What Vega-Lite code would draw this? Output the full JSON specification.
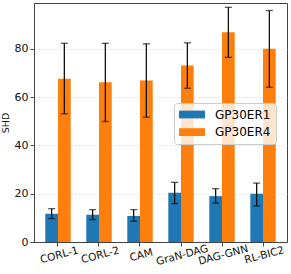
{
  "$schema": "https://vega.github.io/schema/vega-lite/v6.json",
  "autosize": "none",
  "width": 253,
  "height": 239,
  "padding": {"left": 34, "top": 3, "right": 4, "bottom": 32},
  "config": {
    "font": "DejaVu Sans",
    "view": {"stroke": "#444", "strokeWidth": 1},
    "axis": {"domainColor": "#444", "tickColor": "#444", "labelColor": "#111", "titleColor": "#111"}
  },
  "data": {"values": [
    {"method": "CORL-1", "series": "GP30ER1", "value": 11.7, "lo": 9.7, "hi": 13.8},
    {"method": "CORL-2", "series": "GP30ER1", "value": 11.3, "lo": 9.3, "hi": 13.4},
    {"method": "CAM", "series": "GP30ER1", "value": 10.8, "lo": 8.6, "hi": 13.4},
    {"method": "GraN-DAG", "series": "GP30ER1", "value": 20.4, "lo": 15.9, "hi": 24.7},
    {"method": "DAG-GNN", "series": "GP30ER1", "value": 19.0, "lo": 16.1, "hi": 22.1},
    {"method": "RL-BIC2", "series": "GP30ER1", "value": 20.0, "lo": 14.9, "hi": 24.4},
    {"method": "CORL-1", "series": "GP30ER4", "value": 67.6, "lo": 53.1, "hi": 82.3},
    {"method": "CORL-2", "series": "GP30ER4", "value": 66.2, "lo": 49.9, "hi": 82.3},
    {"method": "CAM", "series": "GP30ER4", "value": 66.9, "lo": 51.7, "hi": 82.1},
    {"method": "GraN-DAG", "series": "GP30ER4", "value": 73.1, "lo": 63.7, "hi": 82.5},
    {"method": "DAG-GNN", "series": "GP30ER4", "value": 86.9, "lo": 76.5, "hi": 97.2},
    {"method": "RL-BIC2", "series": "GP30ER4", "value": 80.0, "lo": 64.1, "hi": 95.9}
  ]},
  "encoding": {
    "x": {
      "field": "method", "type": "nominal", "sort": null,
      "scale": {"paddingInner": 0.38, "paddingOuter": 0.275},
      "axis": {"title": null, "labelAngle": -15, "labelAlign": "center", "labelBaseline": "top", "labelFontSize": 10.5, "labelDx": -6, "tickSize": 4, "labelPadding": 4, "domain": true}
    },
    "xOffset": {"field": "series", "type": "nominal", "scale": {"paddingInner": 0, "paddingOuter": 0}}
  },
  "layer": [
    {
      "mark": {"type": "bar"},
      "encoding": {
        "y": {
          "field": "value", "type": "quantitative",
          "scale": {"domain": [0, 99], "nice": false, "zero": true},
          "axis": {"title": "SHD", "titleFontSize": 9.5, "titleFontWeight": "normal", "titlePadding": 4, "values": [0, 20, 40, 60, 80], "labelFontSize": 11, "tickSize": 4, "grid": true, "gridColor": "#ddd", "gridDash": [2, 2], "gridWidth": 0.8}
        },
        "color": {
          "field": "series", "type": "nominal",
          "scale": {"domain": ["GP30ER1", "GP30ER4"], "range": ["#1f77b4", "#ff7f0e"]},
          "legend": {
            "title": null, "orient": "none", "legendX": 140, "legendY": 100,
            "symbolType": "M-1,-0.6H3V0.6H-1Z", "symbolSize": 169, "symbolOpacity": 1, "symbolStrokeWidth": 0,
            "labelFontSize": 12, "labelOffset": 23, "rowPadding": 4.6,
            "padding": 5, "fillColor": "rgba(255,255,255,0.8)", "strokeColor": "#ccc", "cornerRadius": 3
          }
        }
      }
    },
    {
      "mark": {"type": "rule", "color": "#111", "strokeWidth": 1.3},
      "encoding": {
        "y": {"field": "lo", "type": "quantitative"},
        "y2": {"field": "hi"}
      }
    },
    {
      "mark": {"type": "tick", "color": "#111", "size": 7, "thickness": 1.3},
      "encoding": {"y": {"field": "lo", "type": "quantitative"}}
    },
    {
      "mark": {"type": "tick", "color": "#111", "size": 7, "thickness": 1.3},
      "encoding": {"y": {"field": "hi", "type": "quantitative"}}
    }
  ]
}
